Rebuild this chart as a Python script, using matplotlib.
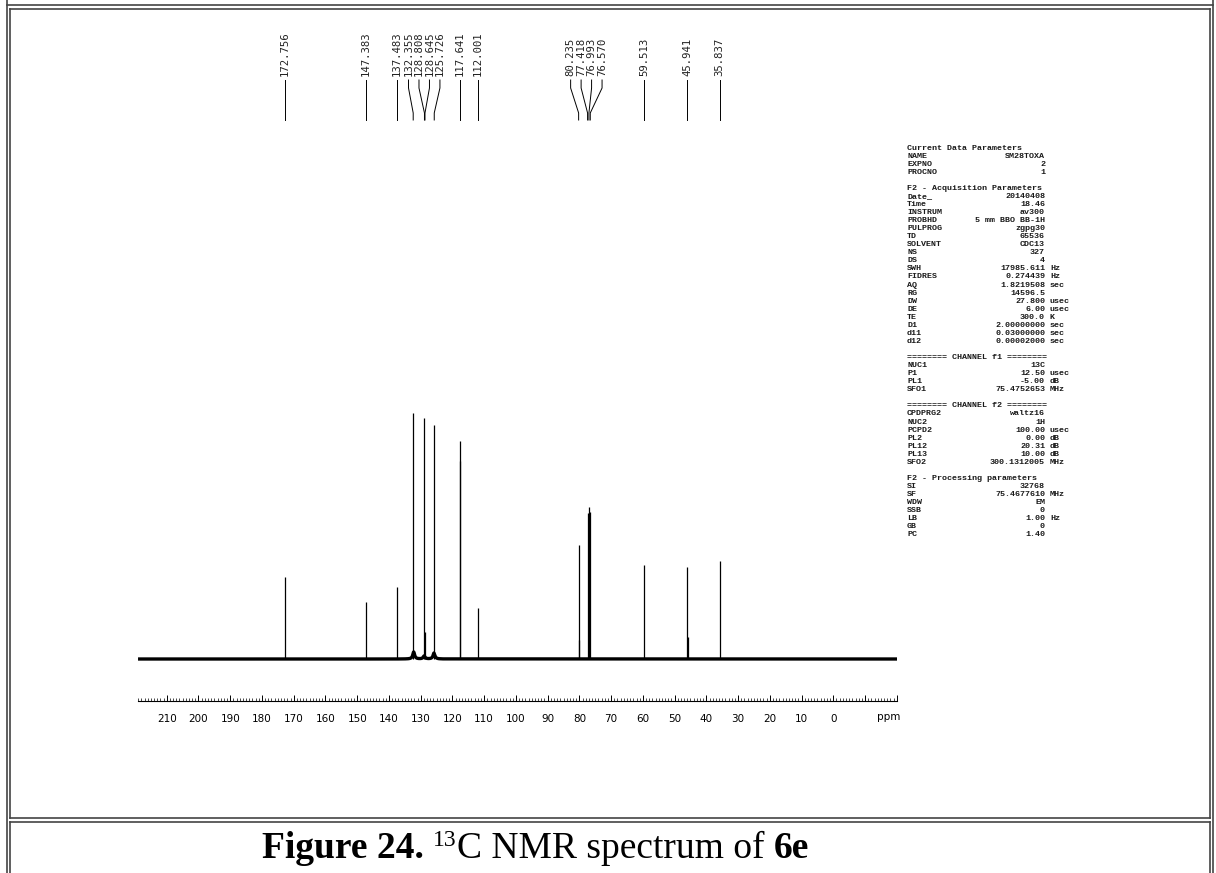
import numpy as np
import matplotlib
matplotlib.use("Agg")
import matplotlib.pyplot as plt
from matplotlib.lines import Line2D
from matplotlib.ticker import MultipleLocator, FuncFormatter

W, H = 1216, 873

# picked peaks: shift (ppm) and intensity (arb. units above baseline)
peak_ppm = [172.756, 147.383, 137.483, 132.355, 128.808, 128.645, 125.726,
            117.641, 112.001, 80.235, 77.418, 76.993, 76.570, 59.513,
            45.941, 35.837]
peak_int = [82, 57, 72, 246, 241, 27, 234, 218, 51, 114, 146, 152, 147,
            94, 92, 98]

# unpicked lines sitting next to picked ones
shoulder_ppm = [117.50, 80.10, 45.85]
shoulder_int = [198, 19, 22]

# broad humps in the aromatic region
hump_ppm = [132.2, 125.8, 128.9]
hump_int = [7, 6, 3]

# acquisition / processing parameter block
param_rows = [
    ("Current Data Parameters", None, None),
    ("NAME", "SM28TOXA", ""),
    ("EXPNO", "2", ""),
    ("PROCNO", "1", ""),
    ("", None, None),
    ("F2 - Acquisition Parameters", None, None),
    ("Date_", "20140408", ""),
    ("Time", "18.46", ""),
    ("INSTRUM", "av300", ""),
    ("PROBHD", "5 mm BBO BB-1H", ""),
    ("PULPROG", "zgpg30", ""),
    ("TD", "65536", ""),
    ("SOLVENT", "CDC13", ""),
    ("NS", "327", ""),
    ("DS", "4", ""),
    ("SWH", "17985.611", "Hz"),
    ("FIDRES", "0.274439", "Hz"),
    ("AQ", "1.8219508", "sec"),
    ("RG", "14596.5", ""),
    ("DW", "27.800", "usec"),
    ("DE", "6.00", "usec"),
    ("TE", "300.0", "K"),
    ("D1", "2.00000000", "sec"),
    ("d11", "0.03000000", "sec"),
    ("d12", "0.00002000", "sec"),
    ("", None, None),
    ("======== CHANNEL f1 ========", None, None),
    ("NUC1", "13C", ""),
    ("P1", "12.50", "usec"),
    ("PL1", "-5.00", "dB"),
    ("SFO1", "75.4752653", "MHz"),
    ("", None, None),
    ("======== CHANNEL f2 ========", None, None),
    ("CPDPRG2", "waltz16", ""),
    ("NUC2", "1H", ""),
    ("PCPD2", "100.00", "usec"),
    ("PL2", "0.00", "dB"),
    ("PL12", "20.31", "dB"),
    ("PL13", "10.00", "dB"),
    ("SFO2", "300.1312005", "MHz"),
    ("", None, None),
    ("F2 - Processing parameters", None, None),
    ("SI", "32768", ""),
    ("SF", "75.4677610", "MHz"),
    ("WDW", "EM", ""),
    ("SSB", "0", ""),
    ("LB", "1.00", "Hz"),
    ("GB", "0", ""),
    ("PC", "1.40", ""),
]


def fbox(x0, y0, x1, y1):
    # pixel box (top-left origin) -> figure fraction rect
    return [x0 / W, 1 - y1 / H, (x1 - x0) / W, (y1 - y0) / H]


def spread_labels(ppm, gap):
    # push crowded labels apart, keeping each cluster centred on its peaks
    groups = [[p] for p in ppm]

    def place(g):
        c = np.mean(g)
        n = len(g)
        return [c + gap * (n - 1) / 2 - gap * i for i in range(n)]

    changed = True
    while changed:
        changed = False
        for i in range(len(groups) - 1):
            a = place(groups[i])
            b = place(groups[i + 1])
            if a[-1] - b[0] < gap:
                groups[i] = groups[i] + groups.pop(i + 1)
                changed = True
                break
    out = []
    for g in groups:
        out += place(g)
    return out


fig = plt.figure(figsize=(W / 100, H / 100), dpi=100)
fig.patch.set_facecolor("white")

xlo, xhi = 219.06, -20.07

# spectrum
ax = fig.add_axes(fbox(138, 401, 897, 701))
ax.set_xlim(xlo, xhi)
ax.set_ylim(-42, 258)

grid = np.arange(xhi, xlo, 0.02)
base = np.zeros_like(grid)
for c, h in zip(hump_ppm, hump_int):
    base += h / (1 + ((grid - c) / 0.35) ** 2)
ax.plot(grid, base, color="black", lw=2.4, solid_capstyle="butt")
ax.vlines(peak_ppm, 0, peak_int, color="black", lw=0.9)
ax.vlines(shoulder_ppm, 0, shoulder_int, color="black", lw=0.9)

for s in ["top", "left", "right"]:
    ax.spines[s].set_visible(False)
ax.spines["bottom"].set_linewidth(0.8)
ax.set_yticks([])
ax.xaxis.set_major_locator(MultipleLocator(10))
ax.xaxis.set_minor_locator(MultipleLocator(1))
ax.xaxis.set_major_formatter(FuncFormatter(
    lambda v, p: f"{v:.0f}" if -0.5 < v < 210.5 else ""))
ax.tick_params(axis="x", which="major", direction="in", length=4, width=0.7,
               pad=9, labelsize=7.5)
ax.tick_params(axis="x", which="minor", direction="in", length=2, width=0.5)
ax.text(-17.5, -58, "ppm", ha="center", va="center", fontsize=7.5,
        transform=ax.transData, clip_on=False)

# peak labels with leader lines
lab = fig.add_axes(fbox(138, 20, 897, 140))
lab.set_xlim(xlo, xhi)
lab.set_ylim(140, 20)
lab.axis("off")
lab_x = spread_labels(peak_ppm, 3.3)
for p, lx in zip(peak_ppm, lab_x):
    lab.text(lx, 76, f"{p:.3f}", rotation=90, ha="center", va="bottom",
             fontsize=7.7, family="DejaVu Sans Mono", color="#222222")
    lab.plot([lx, lx, p, p], [80, 88, 113, 120], color="black", lw=0.7)

# parameter block
y = 148.0
step = 8.06
pfont = dict(fontsize=6.0, family="Liberation Mono", fontweight="bold",
             va="center", color="#1a1a1a")
for key, val, unit in param_rows:
    ty = 1 - y / H
    if key:
        fig.text(907 / W, ty, key, ha="left", **pfont)
    if val:
        fig.text(1045 / W, ty, val, ha="right", **pfont)
    if unit:
        fig.text(1050 / W, ty, unit, ha="left", **pfont)
    y += step

# table borders around the figure and caption
bc = "#444444"


def seg(xs, ys, lw=1.2):
    fig.add_artist(Line2D([x / W for x in xs], [1 - v / H for v in ys],
                          transform=fig.transFigure, color=bc, lw=lw))


seg([7, 1213], [5, 5])
seg([7, 7], [0, 873])
seg([1213, 1213], [0, 873])
seg([10, 1210], [8.5, 8.5])
seg([10, 10], [8.5, 818])
seg([1210, 1210], [8.5, 818])
seg([10, 1210], [818, 818])
seg([10, 1210], [822, 822])
seg([10, 10], [822, 873])
seg([1210, 1210], [822, 873])

# caption, set piece by piece so bold / superscript runs follow each other
renderer = fig.canvas.get_renderer()
cap_y = 1 - 858 / H
cx = 262 / W
pieces = [("Figure 24.", "bold", 27, 0.0),
          (" ", "normal", 27, 0.0),
          ("13", "normal", 17, 0.014),
          ("C NMR spectrum of ", "normal", 27, 0.0),
          ("6e", "bold", 27, 0.0)]
for txt, wt, fs, dy in pieces:
    t = fig.text(cx, cap_y + dy, txt, ha="left", va="baseline", fontsize=fs,
                 fontweight=wt, family="Liberation Serif")
    bb = t.get_window_extent(renderer)
    cx += bb.width / W

fig.savefig("out.png", dpi=100)
